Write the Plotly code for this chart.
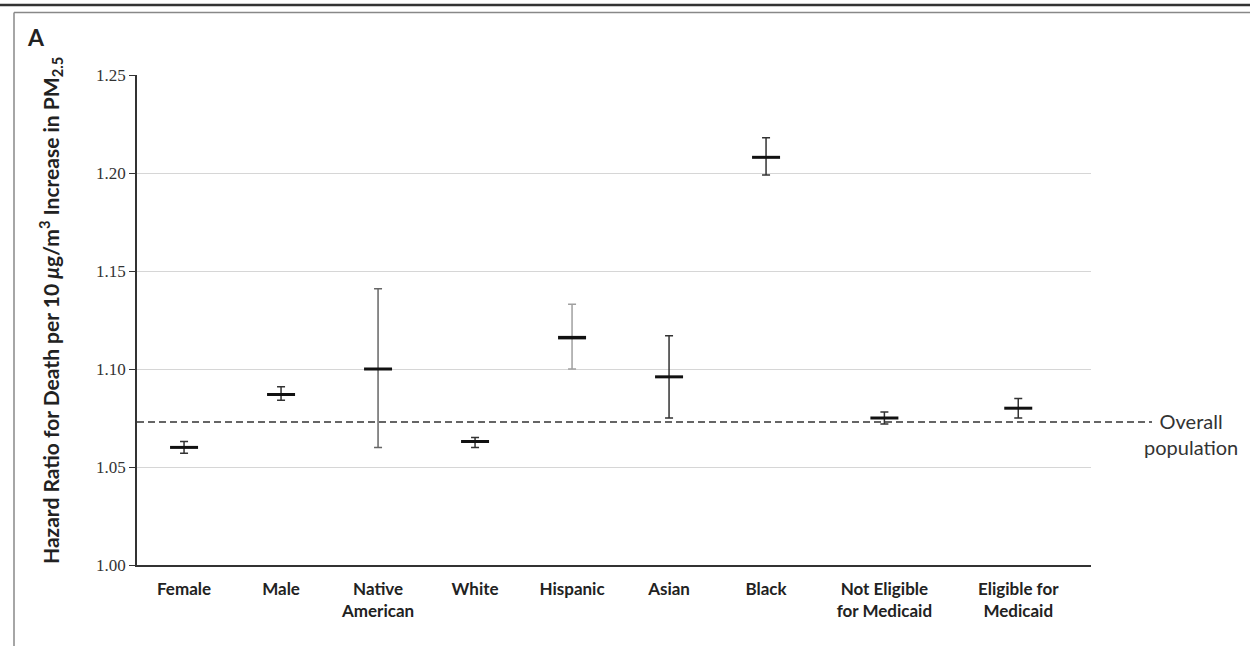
import plotly.graph_objects as go

# ---- data ----
categories = ["Female", "Male", "Native<br>American", "White", "Hispanic", "Asian",
              "Black", "Not Eligible<br>for Medicaid", "Eligible for<br>Medicaid"]
hazard_ratio = [1.060, 1.087, 1.100, 1.063, 1.116, 1.096, 1.208, 1.075, 1.080]
ci_lower = [1.057, 1.084, 1.060, 1.060, 1.100, 1.075, 1.199, 1.072, 1.075]
ci_upper = [1.063, 1.091, 1.141, 1.065, 1.133, 1.117, 1.218, 1.078, 1.085]
overall_hr = 1.073
y_ticks = [1.00, 1.05, 1.10, 1.15, 1.20, 1.25]
y_tick_labels = ["1.00", "1.05", "1.10", "1.15", "1.20", "1.25"]

# ---- layout of category slots on the x axis (uneven spacing as in the figure) ----
slots = [0, 1, 2, 3, 4, 5, 6, 7.22, 8.6]

W, H = 1250, 646
L, R, T, B = 137, 159, 75, 81
pw, ph = W - L - R, H - T - B


def px_x(p):
    return (p - L) / pw


def px_y(p):
    return (H - B - p) / ph


label_font = "Lato, Liberation Sans, sans-serif"
tick_font = "Liberation Serif, DejaVu Serif, serif"

err_colors = {"Hispanic": "#a0a0a0", "Native<br>American": "#666666"}

fig = go.Figure()
for i, cat in enumerate(categories):
    fig.add_trace(go.Scatter(
        x=[slots[i]], y=[hazard_ratio[i]], mode="markers",
        marker=dict(symbol="line-ew", size=20, color="#111",
                    line=dict(width=3.5 if cat == "Hispanic" else 3, color="#111")),
        error_y=dict(type="data", symmetric=False,
                     array=[ci_upper[i] - hazard_ratio[i]],
                     arrayminus=[hazard_ratio[i] - ci_lower[i]],
                     color=err_colors.get(cat, "#333333"), thickness=1.5, width=4),
        showlegend=False, hoverinfo="skip",
    ))

fig.update_layout(
    width=W, height=H,
    margin=dict(l=L, r=R, t=T, b=B, pad=0),
    paper_bgcolor="white", plot_bgcolor="white",
    xaxis=dict(range=[-0.485, 9.35], tickmode="array", tickvals=slots,
               ticktext=["<b>%s</b>" % c for c in categories],
               showgrid=False, zeroline=False,
               showline=True, linecolor="#333", linewidth=1.5, ticks="",
               ticklabelstandoff=8,
               tickfont=dict(family=label_font, size=17, color="#222"),
               fixedrange=True),
    yaxis=dict(range=[1.0, 1.25], tickmode="array", tickvals=y_ticks,
               ticktext=y_tick_labels, showgrid=True, gridcolor="#d6d6d6",
               gridwidth=1, zeroline=False, showline=True, linecolor="#333",
               linewidth=1.5, ticks="outside", ticklen=6, tickcolor="#333",
               tickwidth=1.2,
               tickfont=dict(family=tick_font, size=17, color="#333"),
               fixedrange=True),
)

# overall population dashed reference line
fig.add_shape(type="line", xref="paper", yref="y", x0=0, x1=px_x(1152),
              y0=overall_hr, y1=overall_hr,
              line=dict(color="#333", width=1.5, dash="7px,4px"))

fig.add_annotation(xref="paper", yref="y", x=px_x(1191), y=overall_hr,
                   text="Overall<br>population", showarrow=False,
                   xanchor="center", yanchor="top", yshift=15, align="center",
                   font=dict(family=label_font, size=20, color="#333"))

# y-axis title
fig.add_annotation(xref="paper", yref="paper", x=px_x(50), y=px_y(311),
                   text="<b>Hazard Ratio for Death per 10 <i>μ</i>g/m<sup>3</sup> Increase in PM<sub>2.5</sub></b>",
                   textangle=-90, showarrow=False, xanchor="center", yanchor="middle",
                   font=dict(family=label_font, size=21, color="#222"))

# panel letter
fig.add_annotation(xref="paper", yref="paper", x=px_x(36), y=px_y(37),
                   text="<b>A</b>", showarrow=False, xanchor="center", yanchor="middle",
                   font=dict(family=label_font, size=23, color="#222"))

# frame lines
fig.add_shape(type="line", xref="paper", yref="paper", x0=px_x(0), x1=px_x(W),
              y0=px_y(5), y1=px_y(5), line=dict(color="#333", width=2.5))
fig.add_shape(type="line", xref="paper", yref="paper", x0=px_x(14), x1=px_x(W),
              y0=px_y(12.5), y1=px_y(12.5), line=dict(color="#888", width=1.5))
fig.add_shape(type="line", xref="paper", yref="paper", x0=px_x(14), x1=px_x(14),
              y0=px_y(12.5), y1=px_y(H), line=dict(color="#888", width=1.5))

fig.write_html("out.html", config={"displayModeBar": False},
               post_script="document.body.style.margin='0';document.body.style.overflow='hidden';")
